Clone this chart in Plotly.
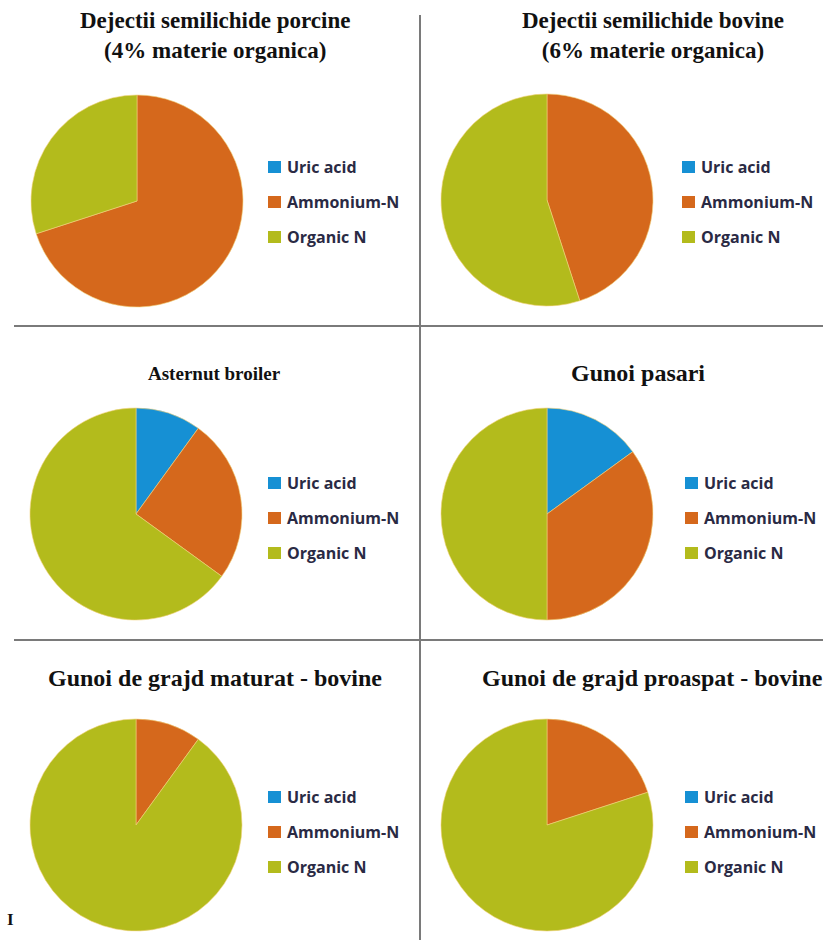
import plotly.graph_objects as go

W, H = 823, 940

categories = ["Uric acid", "Ammonium-N", "Organic N"]
colors = ["#1690D4", "#D5681C", "#B3BB1C"]

titles = [
    "Dejectii semilichide porcine<br>(4% materie organica)",
    "Dejectii semilichide bovine<br>(6% materie organica)",
    "Asternut broiler",
    "Gunoi pasari",
    "Gunoi de grajd maturat - bovine",
    "Gunoi de grajd proaspat - bovine",
]
porcine = [0, 70, 30]
bovine = [0, 45, 55]
broiler = [10, 25, 65]
pasari = [15, 35, 50]
maturat = [0, 10, 90]
proaspat = [0, 20, 80]
series = [porcine, bovine, broiler, pasari, maturat, proaspat]

# layout (pixels)
pie_centers = [(137, 201), (547, 200), (136, 514), (547, 514), (136, 825), (547, 825)]
pie_r = 106
title_pos = [(215, 35, "center", 23), (653, 35, "center", 23), (214, 373, "center", 19),
             (638, 373, "center", 24), (215, 678, "center", 24), (480, 678, "left", 24)]
legend_pos = [(268, 167), (682, 167), (268, 483), (685, 483), (268, 797), (685, 797)]
legend_step = 35

def px(x):
    return x / W

def py(y):
    return 1 - y / H

fig = go.Figure()
for vals, (cx, cy) in zip(series, pie_centers):
    fig.add_trace(go.Pie(
        labels=categories, values=vals, sort=False, direction="clockwise",
        rotation=0, textinfo="none", hoverinfo="label+percent",
        marker=dict(colors=colors, line=dict(color="#F2D27A", width=0.6)),
        domain=dict(x=[px(cx - pie_r), px(cx + pie_r)], y=[py(cy + pie_r), py(cy - pie_r)]),
        showlegend=False,
    ))

annotations = []
shapes = []
for t, (tx, ty, anc, fs) in zip(titles, title_pos):
    annotations.append(dict(
        text="<b>" + t + "</b>", x=px(tx), y=py(ty), xref="paper", yref="paper",
        xanchor=anc, yanchor="middle", showarrow=False, align="center",
        font=dict(family="Liberation Serif", size=fs, color="#111111"),
    ))

for (lx, ly) in legend_pos:
    for i, (cat, col) in enumerate(zip(categories, colors)):
        yy = ly + i * legend_step
        shapes.append(dict(type="rect", xref="paper", yref="paper",
                           x0=px(lx), x1=px(lx + 13), y0=py(yy + 6), y1=py(yy - 6),
                           fillcolor=col, line=dict(width=0)))
        annotations.append(dict(
            text="<b>" + cat + "</b>", x=px(lx + 17), y=py(yy), xref="paper", yref="paper",
            xanchor="left", yanchor="middle", showarrow=False,
            font=dict(family="Open Sans", size=16, color="#2A2A44"),
        ))

# separator lines
line_style = dict(color="#7A7A7A", width=2)
shapes.append(dict(type="line", xref="paper", yref="paper", x0=px(420), x1=px(420),
                   y0=py(15), y1=py(940), line=line_style))
for yl in (326, 640):
    shapes.append(dict(type="line", xref="paper", yref="paper", x0=px(14), x1=px(823),
                       y0=py(yl), y1=py(yl), line=line_style))

annotations.append(dict(text="<b>I</b>", x=px(5), y=py(919), xref="paper", yref="paper",
                        xanchor="left", yanchor="middle", showarrow=False,
                        font=dict(family="Liberation Serif", size=17, color="#111111")))

fig.update_layout(
    width=W, height=H, margin=dict(l=0, r=0, t=0, b=0),
    paper_bgcolor="white", plot_bgcolor="white",
    annotations=annotations, shapes=shapes,
)
fig.write_html("out.html", config={"displayModeBar": False},
               post_script="document.body.style.margin='0';document.body.style.overflow='hidden';")
